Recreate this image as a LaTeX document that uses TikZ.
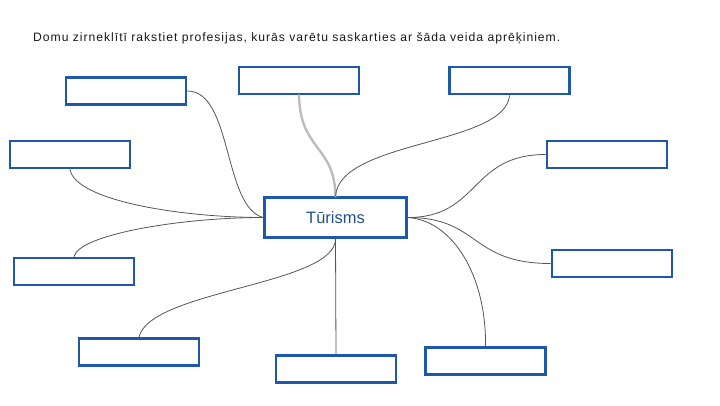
\documentclass[tikz,border=0pt]{standalone}
\usepackage{fontspec}
\setmainfont{Liberation Sans}
\usepackage{xcolor}
\usetikzlibrary{calc}
\definecolor{frame}{HTML}{1E58A8}
\definecolor{hubtext}{HTML}{22508E}
\definecolor{wire}{HTML}{555555}
\definecolor{pale}{HTML}{BDBDBD}
\tikzset{
  box/.style={draw=frame, line width=2.8pt, minimum width=120pt, minimum height=27pt, inner sep=0pt},
  hub/.style={draw=frame, line width=2.8pt, minimum width=142pt, minimum height=40pt, inner sep=0pt,
    text=hubtext, font=\fontsize{16.5}{18}\selectfont},
  link/.style={draw=wire, line width=0.8pt},
  faint/.style={draw=pale, line width=2.4pt, line cap=round},
  lab/.style={text=black!90, font=\fontsize{11}{12}\selectfont\addfontfeatures{LetterSpace=8}, inner sep=0pt},
}

\begin{document}
\begin{tikzpicture}[x=1pt,y=-1pt]
  \useasboundingbox (0,0) rectangle (720,405);

  \node[lab,anchor=west] (title) at (33,38)
    {\resizebox{527pt}{!}{Domu zirneklītī rakstiet profesijas, kurās varētu saskarties ar šāda veida aprēķiniem.}};

  \node[hub] (hub) at (335.5,217.5) {Tūrisms};

  \node[box] (topl) at (126,91) {};
  \node[box] (left) at (70,154.5) {};
  \node[box] (lowl) at (74,271.5) {};
  \node[box] (top)  at (299,80.5) {};
  \node[box] (topr) at (509.5,80.5) {};
  \node[box] (right) at (607,154.5) {};
  \node[box] (lowr) at (612,263.5) {};
  \node[box] (botr) at (485.5,361) {};
  \node[box] (botc) at (336,369) {};
  \node[box] (botl) at (139,352) {};

  % left side
  \draw[link] (topl.east) .. controls +(45,0) and +(-40,-11) .. (hub.west);
  \draw[link] (left.south) .. controls +(5,31) and +(-83,0) .. (hub.west);
  \draw[link] (lowl.north) .. controls +(5,-22) and +(-83,0) .. (hub.west);

  % top
  \draw[faint] (top.south) .. controls +(1,55) and +(-1,-51) .. (hub.north);
  \draw[link] (topr.south) .. controls +(-4,50) and +(4,-56) .. (hub.north);

  % right side
  \draw[link] (right.west) .. controls +(-76,0) and +(72,0) .. (hub.east);
  \draw[link] (lowr.west) .. controls +(-81,0) and +(72,0) .. (hub.east);
  \draw[link] (botr.north) .. controls +(1,-70) and +(45,3) .. (hub.east);

  % bottom
  \draw[link] (botc.north) -- (hub.south);
  \draw[link] (botl.north) .. controls +(11,-47) and +(0,46) .. (hub.south);
\end{tikzpicture}
\end{document}
